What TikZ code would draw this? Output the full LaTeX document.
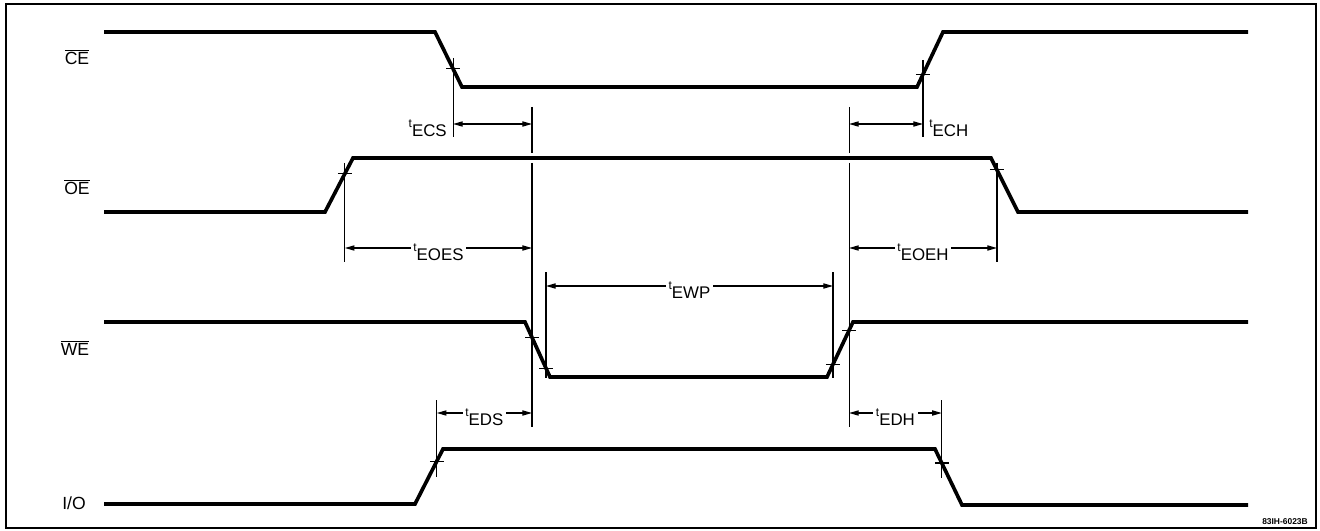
\documentclass[tikz,border=0pt]{standalone}
\usepackage{fontspec}
\setmainfont{Liberation Sans}
\usetikzlibrary{arrows.meta, calc}
\definecolor{cink}{HTML}{000000}
\tikzset{
  every picture/.style={line width=0.8pt},
  sig/.style={draw=cink, line width=2.6pt, line join=miter},
  ext/.style={draw=cink, line width=0.8pt},
  dim/.style={{Triangle[length=2.4mm,width=1.3mm]}-{Triangle[length=2.4mm,width=1.3mm]}, draw=cink, line width=0.8pt},
  sname/.style={font=\fontsize{12.5}{12.5}\selectfont, inner sep=0pt},
  tname/.style={font=\fontsize{12}{12}\selectfont, fill=white, inner sep=2pt, anchor=base, yshift=-0.3cm},
}
\newcommand{\ovl}[1]{$\overline{\hbox{#1}}$}
\newcommand{\tsym}[1]{\raisebox{6.4pt}{\fontsize{8.5}{8.5}\selectfont t}#1}

\begin{document}
\begin{tikzpicture}[x=0.025cm, y=-0.025cm]
  \useasboundingbox (0,0) rectangle (1320,531);
  \draw[line width=1.2pt] (6,4) rectangle (1316,528);
  % signal names
  \node[sname] (nce) at (77,57) {\ovl{CE}};
  \node[sname] (noe) at (77,187) {\ovl{OE}};
  \node[sname] (nwe) at (75,348) {\ovl{WE}};
  \node[sname] (nio) at (74,503) {I/O};
  % waveforms
  \draw[sig] (104,32) -- (435,32) -- coordinate[pos=0.67] (cef) (462,87) -- (917,87)
    -- coordinate[pos=0.23] (cer) (943,32) -- (1248,32);
  \draw[sig] (104,212) -- (325,212) -- coordinate[pos=0.71] (oer) (353,158) -- (991,158)
    -- coordinate[pos=0.22] (oef) (1018,212) -- (1248,212);
  \draw[sig] (104,322) -- (525,322) -- coordinate[pos=0.28] (wef1) coordinate[pos=0.84] (wef2) (550,377)
    -- (827,377) -- coordinate[pos=0.23] (wer1) coordinate[pos=0.85] (wer2) (853,322) -- (1248,322);
  \draw[sig] (104,504) -- (415,504) -- coordinate[pos=0.78] (ior) (443,449) -- (935,449)
    -- coordinate[pos=0.25] (iof) (962,505) -- (1248,505);
  % ticks on the edges
  \foreach \p in {cef,cer,oer,oef,wef1,wef2,wer1,wer2,ior,iof}
    \draw[ext] ($(\p)+(-7,0)$) -- ($(\p)+(7,0)$);
  % extension lines
  \foreach \p/\a/\b in {cef/58/137, cer/60/137, oer/163/262, oef/163/262, wef1/107/153, wef1/163/427,
      wer2/107/153, wer2/163/427, wef2/272/378, wer1/272/378, ior/400/477, iof/400/478}
    \draw[ext] (\p |- 0,\a) -- (\p |- 0,\b);
  % timing parameters
  \draw[dim] (cef |- 0,124) -- (wef1 |- 0,124);
  \node[tname, anchor=base east] (lecs) at ($(cef |- 0,124)+(-3,0)$) {\tsym{ECS}};
  \draw[dim] (wer2 |- 0,124) -- (cer |- 0,124);
  \node[tname, anchor=base west] (lech) at ($(cer |- 0,124)+(3,0)$) {\tsym{ECH}};
  \draw[dim] (oer |- 0,248) -- node[tname] (leoes) {\tsym{EOES}} (wef1 |- 0,248);
  \draw[dim] (wer2 |- 0,248) -- node[tname] (leoeh) {\tsym{EOEH}} (oef |- 0,248);
  \draw[dim] (wef2 |- 0,286) -- node[tname] (lewp) {\tsym{EWP}} (wer1 |- 0,286);
  \draw[dim] (ior |- 0,413) -- node[tname] (leds) {\tsym{EDS}} (wef1 |- 0,413);
  \draw[dim] (wer2 |- 0,413) -- node[tname] (ledh) {\tsym{EDH}} (iof |- 0,413);
  \node[font=\bfseries\fontsize{6}{6}\selectfont] (fig) at (1285,522) {83IH-6023B};
\end{tikzpicture}
\end{document}
